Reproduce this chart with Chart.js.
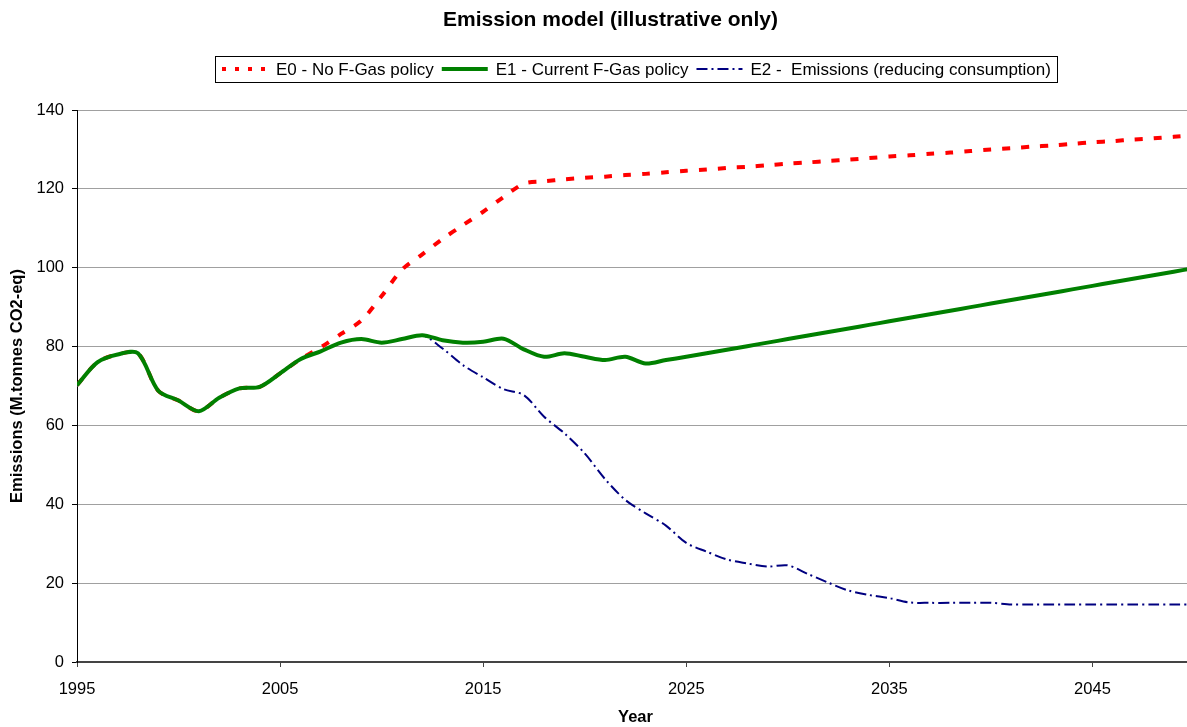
<!DOCTYPE html>
<html>
<head>
<meta charset="utf-8">
<script src="https://cdn.jsdelivr.net/npm/chart.js@4"></script>
<style>
  html, body { margin: 0; padding: 0; background: #fff; overflow: hidden; }
  #wrap { width: 1221px; height: 727px; }
</style>
</head>
<body>
<div id="wrap"><canvas id="myChart" width="1221" height="727"></canvas></div>
<script>
// année par année
const years = [1995, 1996, 1997, 1998, 1999, 2000, 2001, 2002, 2003, 2004,
  2005, 2006, 2007, 2008, 2009, 2010, 2011, 2012, 2013, 2014,
  2015, 2016, 2017, 2018, 2019, 2020, 2021, 2022, 2023, 2024,
  2025, 2026, 2027, 2028, 2029, 2030, 2031, 2032, 2033, 2034,
  2035, 2036, 2037, 2038, 2039, 2040, 2041, 2042, 2043, 2044,
  2045, 2046, 2047, 2048, 2049, 2050];

const e0 = [70.2, 76.0, 78.0, 78.3, 68.8, 66.3, 63.6, 67.0, 69.4, 69.8,
  73.2, 76.8, 79.8, 83.2, 86.6, 92.8, 99.5, 103.4, 107.3, 110.8,
  114.2, 117.9, 121.3, 121.9, 122.4, 122.8, 123.1, 123.5, 123.8, 124.2,
  124.6, 124.9, 125.3, 125.6, 126.0, 126.4, 126.7, 127.1, 127.4, 127.8,
  128.2, 128.5, 128.9, 129.2, 129.6, 130.0, 130.3, 130.7, 131.0, 131.4,
  131.8, 132.1, 132.5, 132.8, 133.2, 133.6];

const e1 = [70.2, 76.0, 78.0, 78.3, 68.8, 66.3, 63.6, 67.0, 69.4, 69.8,
  73.2, 76.8, 78.8, 81.0, 81.9, 81.0, 81.9, 82.9, 81.6, 81.0,
  81.2, 82.0, 79.3, 77.4, 78.3, 77.4, 76.6, 77.4, 75.7, 76.6,
  77.4, 78.3, 79.2, 80.1, 81.0, 81.9, 82.8, 83.7, 84.6, 85.5,
  86.4, 87.3, 88.2, 89.1, 90.0, 90.9, 91.8, 92.7, 93.6, 94.5,
  95.4, 96.3, 97.2, 98.1, 99.0, 99.9];

const e2 = [70.2, 76.0, 78.0, 78.3, 68.8, 66.3, 63.6, 67.0, 69.4, 69.8,
  73.2, 76.8, 78.8, 81.0, 81.9, 81.0, 81.9, 82.9, 79.5, 75.3,
  72.2, 69.2, 67.7, 62.2, 58.0, 52.9, 46.4, 41.1, 37.7, 34.6,
  30.2, 28.0, 26.0, 25.0, 24.2, 24.5, 22.3, 20.1, 18.1, 17.0,
  16.2, 15.1, 15.0, 15.0, 15.0, 15.0, 14.6, 14.6, 14.6, 14.6,
  14.6, 14.6, 14.6, 14.6, 14.6, 14.6];

const seriesNames = ["E0 - No F-Gas policy", "E1 - Current F-Gas policy", "E2 -  Emissions (reducing consumption)"];
const xTicks = [1995, 2005, 2015, 2025, 2035, 2045];
const chartTitle = "Emission model (illustrative only)";

const family = '"Liberation Sans", Arial, sans-serif';
Chart.defaults.font.family = family;
Chart.defaults.color = "#000";

function pts(values) {
  return years.map((y, i) => ({ x: y, y: values[i] }));
}

// tirets de la légende (plus courts que sur les courbes)
const legendDashes = [[4, 9], [], [11, 4, 2, 4]];

// titre + légende encadrée dessinés à la main, comme dans Excel
const decor = {
  id: "decor",
  afterDraw(chart) {
    const ctx = chart.ctx;
    const area = chart.chartArea;
    ctx.save();
    ctx.fillStyle = "#000";
    ctx.textBaseline = "middle";
    ctx.textAlign = "center";
    ctx.font = "bold 21px " + family;
    ctx.fillText(chartTitle, chart.width / 2, 20);

    ctx.font = "17px " + family;
    const sample = 46, gap = 8, after = 8, padL = 7, padR = 6;
    const items = chart.data.datasets.map((ds, i) => ({ ds: ds, i: i, w: ctx.measureText(ds.label).width }));
    let total = padL + padR;
    items.forEach((it, k) => { total += sample + gap + it.w + (k < items.length - 1 ? after : 0); });
    const bx = Math.round((area.left + area.right) / 2 - total / 2);
    const by = 56, bh = 26, cy = by + bh / 2;
    ctx.strokeStyle = "#000";
    ctx.lineWidth = 1;
    ctx.setLineDash([]);
    ctx.strokeRect(bx + 0.5, by + 0.5, Math.round(total), bh);
    let x = bx + padL;
    items.forEach(it => {
      ctx.beginPath();
      ctx.strokeStyle = it.ds.borderColor;
      ctx.lineWidth = it.ds.borderWidth;
      ctx.setLineDash(legendDashes[it.i]);
      ctx.moveTo(x, cy);
      ctx.lineTo(x + sample, cy);
      ctx.stroke();
      ctx.setLineDash([]);
      x += sample + gap;
      ctx.textAlign = "left";
      ctx.fillText(it.ds.label, x, cy + 1);
      x += it.w + after;
    });
    ctx.restore();
  }
};

const config = {
  type: "line",
  data: {
    datasets: [
      {
        label: seriesNames[0],
        data: pts(e0),
        borderColor: "#ff0000",
        borderWidth: 4,
        borderDash: [8, 11],
        order: 3,
      },
      {
        label: seriesNames[1],
        data: pts(e1),
        borderColor: "#008000",
        borderWidth: 4,
        order: 1,
      },
      {
        label: seriesNames[2],
        data: pts(e2),
        borderColor: "#000080",
        borderWidth: 2,
        borderDash: [11, 4, 2, 4],
        order: 2,
      },
    ],
  },
  options: {
    responsive: false,
    animation: false,
    layout: { padding: { top: 110, right: 27, left: 0, bottom: 0 } },
    elements: {
      point: { radius: 0 },
      line: { tension: 0.3, fill: false },
    },
    plugins: {
      legend: { display: false },
      title: { display: false },
      tooltip: { enabled: false },
    },
    scales: {
      x: {
        type: "linear",
        min: 1995,
        max: 2050,
        afterBuildTicks: s => { s.ticks = xTicks.map(v => ({ value: v })); },
        afterFit: s => { s.height = 65; },
        grid: { drawOnChartArea: false, drawTicks: true, tickLength: 5, color: "#444" },
        border: { color: "#444", width: 2 },
        ticks: {
          font: { size: 16.5 },
          padding: 13,
          maxRotation: 0,
          autoSkip: false,
          callback: v => String(v),
        },
        title: {
          display: true,
          text: "Year",
          font: { size: 16.5, weight: "bold" },
          padding: { top: 0, bottom: 0 },
        },
      },
      y: {
        min: 0,
        max: 140,
        afterFit: s => { s.width = 77; },
        grid: { color: "#a0a0a0", tickColor: "#000", tickLength: 5 },
        border: { color: "#000", width: 1 },
        ticks: { stepSize: 20, font: { size: 16.5 }, padding: 8 },
        title: {
          display: true,
          text: "Emissions (M.tonnes CO2-eq)",
          font: { size: 16.5, weight: "bold" },
          padding: { top: 8, bottom: 0 },
        },
      },
    },
  },
  plugins: [decor],
};

const context = document.getElementById("myChart").getContext("2d");
const chart = new Chart(context, config);
</script>
</body>
</html>
